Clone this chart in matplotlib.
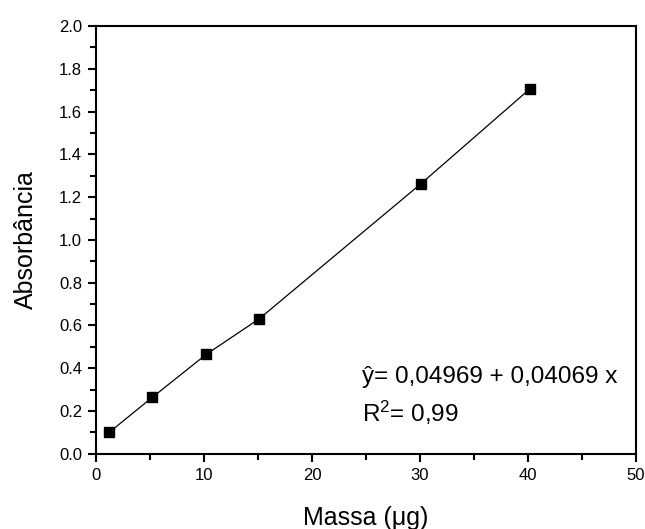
import matplotlib
matplotlib.use("Agg")
import matplotlib.pyplot as plt
from matplotlib.ticker import MultipleLocator

plt.rcParams['font.family'] = ['Liberation Sans', 'DejaVu Sans']
plt.rcParams['mathtext.fontset'] = 'custom'
plt.rcParams['mathtext.rm'] = 'Liberation Sans'
plt.rcParams['mathtext.it'] = 'Liberation Sans:italic'

massa = [1.2, 5.2, 10.2, 15.1, 30.1, 40.2]
absorbancia = [0.10, 0.264, 0.465, 0.631, 1.263, 1.707]
eq_text = "ŷ= 0,04969 + 0,04069 x"
r2_text = "R$^{2}$= 0,99"

fig = plt.figure(figsize=(6.45, 5.29), dpi=100)
ax = fig.add_axes([0.149, 0.142, 0.837, 0.809])

ax.plot(massa, absorbancia, color='black', lw=0.9, marker='s', ms=6.5,
        mec='black', mfc='black')

ax.set_xlim(0, 50)
ax.set_ylim(0, 2.0)
ax.xaxis.set_major_locator(MultipleLocator(10))
ax.xaxis.set_minor_locator(MultipleLocator(5))
ax.yaxis.set_major_locator(MultipleLocator(0.2))
ax.yaxis.set_minor_locator(MultipleLocator(0.1))
ax.yaxis.set_major_formatter(matplotlib.ticker.FormatStrFormatter('%.1f'))

for s in ax.spines.values():
    s.set_linewidth(1.5)
ax.tick_params(which='major', direction='out', length=6, width=1.5,
               labelsize=12, pad=4, top=False, right=False)
ax.tick_params(which='minor', direction='out', length=4, width=1.5,
               top=False, right=False)

ax.set_xlabel("Massa (μg)", fontsize=18, labelpad=17)
ax.set_ylabel("Absorbância", fontsize=18, labelpad=15)

ax.text(24.6, 0.332, eq_text, fontsize=17.5, ha='left', va='baseline')
ax.text(24.6, 0.148, r2_text, fontsize=17.5, ha='left', va='baseline')

fig.savefig("out.png", dpi=100)
